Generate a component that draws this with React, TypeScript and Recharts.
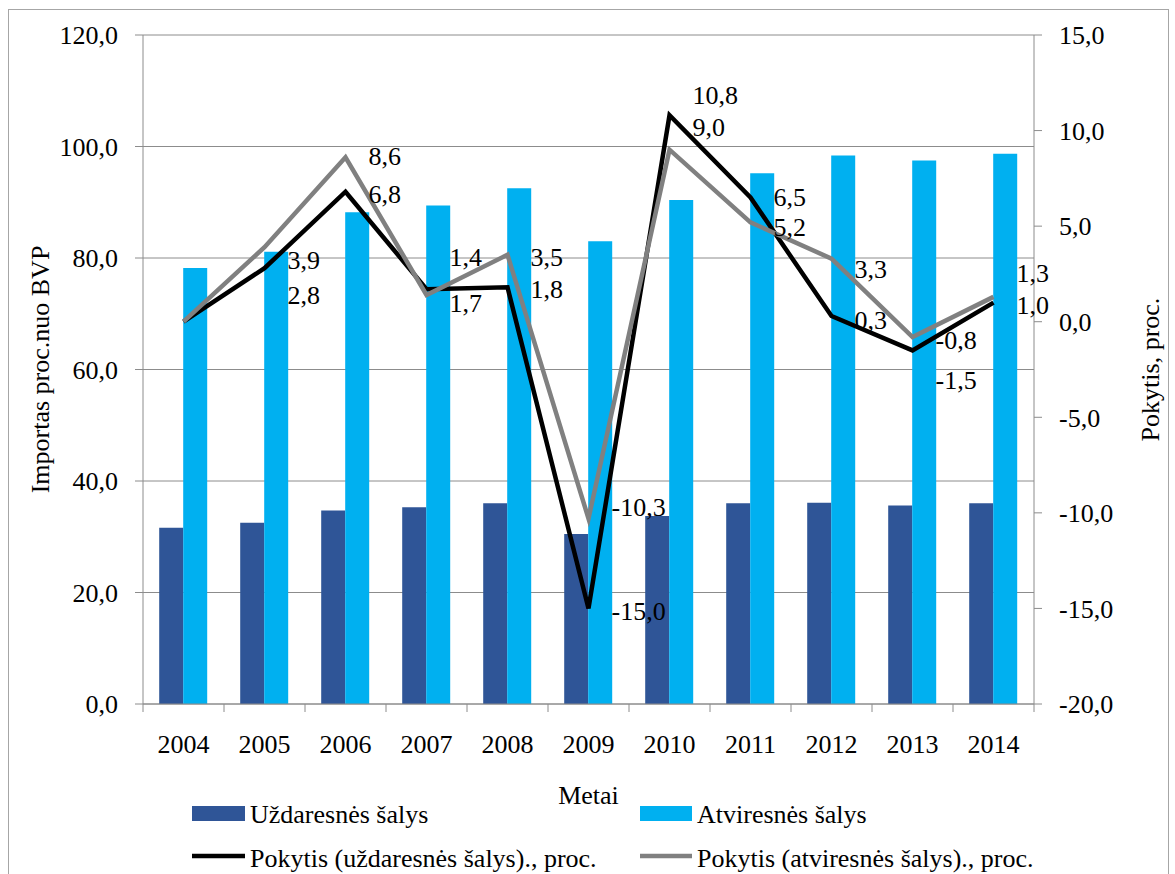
import React from "react";
import {
  ComposedChart,
  Bar,
  Line,
  XAxis,
  YAxis,
  CartesianGrid,
  LabelList,
  Label,
} from "recharts";

const years = ["2004", "2005", "2006", "2007", "2008", "2009", "2010", "2011", "2012", "2013", "2014"];
const closedImports = [31.6, 32.5, 34.7, 35.3, 36.0, 30.5, 33.7, 36.0, 36.1, 35.6, 36.0];
const openImports = [78.2, 81.1, 88.2, 89.4, 92.5, 83.0, 90.4, 95.2, 98.4, 97.5, 98.7];
const closedChange = [0, 2.8, 6.8, 1.7, 1.8, -15.0, 10.8, 6.5, 0.3, -1.5, 1.0];
const openChange = [0, 3.9, 8.6, 1.4, 3.5, -10.3, 9.0, 5.2, 3.3, -0.8, 1.3];
const leftTicks = [0, 20, 40, 60, 80, 100, 120];
const rightTicks = [-20, -15, -10, -5, 0, 5, 10, 15];

const closedName = "Uždaresnės šalys";
const openName = "Atviresnės šalys";
const closedChangeName = "Pokytis (uždaresnės šalys)., proc.";
const openChangeName = "Pokytis (atviresnės šalys)., proc.";

// vertical nudges for the value labels, the original has them hand-placed
const closedLabelDy = [0, 27, 2, 14, 2, 2, -20, -1, 4, 30, 2];
const openLabelDy = [0, 13, -1, -38, 2, -12, -23, 5, 10, 3, -24];

const data = years.map((year, i) => ({
  year,
  closed: closedImports[i],
  open: openImports[i],
  closedChange: closedChange[i],
  openChange: openChange[i],
}));

const DARK = "#2F5597";
const LIGHT = "#00B0F0";
const GRAY_LINE = "#808080";
const AXIS = "#8c8c8c";
const FONT = "'Liberation Serif', 'Times New Roman', serif";
const FS = 26;

const PLOT_BOTTOM = 704;
const BAND = 891 / 11;

const fmt = (v: number) => v.toFixed(1).replace(".", ",");

function YearTick(props: any) {
  const { x, y, payload, index } = props;
  const half = BAND / 2;
  return (
    <g>
      <line x1={x - half} x2={x - half} y1={PLOT_BOTTOM} y2={PLOT_BOTTOM + 8} stroke={AXIS} />
      {index === years.length - 1 && (
        <line x1={x + half} x2={x + half} y1={PLOT_BOTTOM} y2={PLOT_BOTTOM + 8} stroke={AXIS} />
      )}
      <text x={x} y={y} dy="0.71em" textAnchor="middle" fontFamily={FONT} fontSize={FS} fill="#000">
        {payload.value}
      </text>
    </g>
  );
}

const valueLabel = (dys: number[]) => (props: any) => {
  const { x, y, value, index } = props;
  if (index === 0) return null;
  return (
    <text
      x={x + 23}
      y={y + dys[index]}
      dy="0.35em"
      textAnchor="start"
      fontFamily={FONT}
      fontSize={FS}
      fill="#000"
    >
      {fmt(value)}
    </text>
  );
};

function LegendOverlay() {
  const textProps = { fontFamily: FONT, fontSize: FS, fill: "#000" };
  return (
    <svg
      width={1175}
      height={874}
      style={{ position: "absolute", left: 0, top: 0, pointerEvents: "none" }}
    >
      <rect x={192} y={806} width={53} height={15} fill={DARK} />
      <text x={250} y={823} {...textProps}>{closedName}</text>
      <rect x={640} y={806} width={52} height={15} fill={LIGHT} />
      <text x={697} y={823} {...textProps}>{openName}</text>
      <line x1={192} x2={245} y1={856} y2={856} stroke="#000" strokeWidth={4.5} />
      <text x={250} y={867} {...textProps}>{closedChangeName}</text>
      <line x1={640} x2={692} y1={856} y2={856} stroke={GRAY_LINE} strokeWidth={4.5} />
      <text x={697} y={867} {...textProps}>{openChangeName}</text>
    </svg>
  );
}

export default function App() {
  const tickStyle = { fill: "#000", fontSize: FS, fontFamily: FONT };
  return (
    <div style={{ position: "absolute", left: 0, top: 0, width: 1175, height: 874, background: "#fff" }}>
      <div
        style={{
          position: "absolute",
          left: 8,
          top: 9,
          width: 1159,
          height: 865,
          border: "1px solid #a6a6a6",
          borderBottom: "none",
        }}
      />
      <ComposedChart
        width={1175}
        height={874}
        data={data}
        margin={{ top: 35, right: 0, bottom: 0, left: 0 }}
        barCategoryGap="20%"
        barGap={0}
        style={{ position: "absolute", left: 0, top: 0 }}
      >
        <CartesianGrid yAxisId="left" vertical={false} stroke={AXIS} />
        <XAxis
          dataKey="year"
          height={170}
          tick={<YearTick />}
          tickLine={false}
          tickSize={8}
          tickMargin={23}
          axisLine={{ stroke: AXIS }}
          interval={0}
        >
          <Label
            value="Metai"
            position="insideTop"
            offset={82}
            style={{ fontFamily: FONT, fontSize: FS, fill: "#000" }}
          />
        </XAxis>
        <YAxis
          yAxisId="left"
          orientation="left"
          width={143}
          domain={[0, 120]}
          ticks={leftTicks}
          tickFormatter={fmt}
          tick={tickStyle}
          tickSize={8}
          tickMargin={17}
          tickLine={{ stroke: AXIS }}
          axisLine={{ stroke: AXIS }}
        >
          <Label
            value="Importas proc.nuo BVP"
            angle={-90}
            position="insideLeft"
            offset={40}
            style={{ fontFamily: FONT, fontSize: FS, fill: "#000", textAnchor: "middle" }}
          />
        </YAxis>
        <YAxis
          yAxisId="right"
          orientation="right"
          width={141}
          domain={[-20, 15]}
          ticks={rightTicks}
          tickFormatter={fmt}
          tick={tickStyle}
          tickSize={8}
          tickMargin={17}
          tickLine={{ stroke: AXIS }}
          axisLine={{ stroke: AXIS }}
        >
          <Label
            value="Pokytis, proc."
            angle={-90}
            position="insideRight"
            offset={25}
            style={{ fontFamily: FONT, fontSize: FS, fill: "#000", textAnchor: "middle" }}
          />
        </YAxis>
        <Bar yAxisId="left" dataKey="closed" name={closedName} fill={DARK} isAnimationActive={false} />
        <Bar yAxisId="left" dataKey="open" name={openName} fill={LIGHT} isAnimationActive={false} />
        <Line
          yAxisId="right"
          type="linear"
          dataKey="closedChange"
          name={closedChangeName}
          stroke="#000"
          strokeWidth={4.5}
          dot={false}
          activeDot={false}
          isAnimationActive={false}
        >
          <LabelList dataKey="closedChange" content={valueLabel(closedLabelDy)} />
        </Line>
        <Line
          yAxisId="right"
          type="linear"
          dataKey="openChange"
          name={openChangeName}
          stroke={GRAY_LINE}
          strokeWidth={4.5}
          dot={false}
          activeDot={false}
          isAnimationActive={false}
        >
          <LabelList dataKey="openChange" content={valueLabel(openLabelDy)} />
        </Line>
      </ComposedChart>
      <LegendOverlay />
    </div>
  );
}
